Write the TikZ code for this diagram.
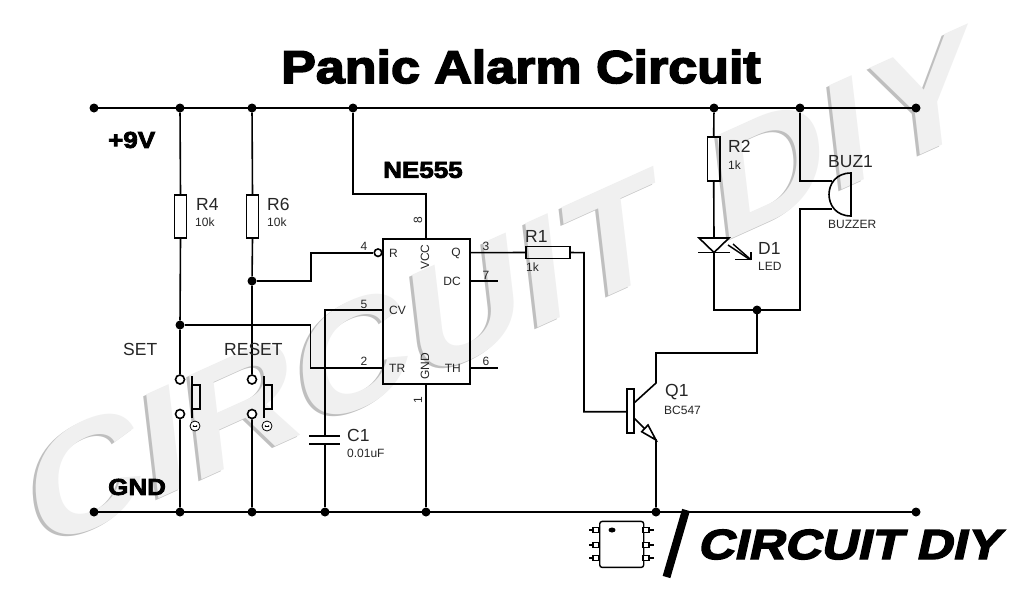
\documentclass[tikz,border=0pt]{standalone}
\usetikzlibrary{arrows.meta}
\usepackage{fontspec}
\setmainfont{Liberation Sans}
\newfontfamily\heavy[FakeBold=3.5,FakeStretch=1.13]{Liberation Sans Bold}
\newfontfamily\logofont[FakeBold=3.5,FakeSlant=0.22,FakeStretch=1.2]{Liberation Sans Bold}
\newfontfamily\wm{Liberation Sans Bold}
\newcommand{\wmletter}[3]{%
  \node[wmshadow,cm={1.096,0.495,-0.125,1.065,(#1-2.5,#2+2)},transform shape] {\wmchar{#3}};
  \node[wmface,cm={1.096,0.495,-0.125,1.065,(#1,#2)},transform shape] {\wmchar{#3}};
}
\newcommand{\wmchar}[1]{\fontsize{142}{142}\wm #1}
\tikzset{
  wire/.style={line width=1.6pt,line join=miter},
  part/.style={line width=1.8pt,fill=white},
  junction/.style={circle,fill=black,inner sep=0pt,minimum size=9pt},
  contact/.style={circle,draw=black,line width=1.6pt,fill=white,inner sep=0pt,minimum size=9pt},
  lbl/.style={inner sep=0pt,font=\fontsize{17.5}{17.5}\selectfont,text=black!85},
  small/.style={inner sep=0pt,font=\fontsize{12}{12}\selectfont,text=black!85},
  pinlbl/.style={inner sep=0pt,font=\fontsize{12}{12}\selectfont,text=black!85},
  iclbl/.style={inner sep=0pt,font=\fontsize{12}{12}\selectfont,text=black!85},
  bold/.style={inner sep=0pt,font=\fontsize{23}{23}\heavy},
  wmshadow/.style={anchor=base west,inner sep=0pt,text=black!25},
  wmface/.style={anchor=base west,inner sep=0pt,text=black!6},
}
\begin{document}
\begin{tikzpicture}[x=1pt,y=-1pt]
\useasboundingbox (0,0) rectangle (1024,592);
\fill[white] (0,0) rectangle (1024,592);
% watermark
\wmletter{36}{554}{C}
\wmletter{148}{504}{I}
\wmletter{191}{485}{R}
\wmletter{303}{434}{C}
\wmletter{415}{384}{U}
\wmletter{527}{333}{I}
\wmletter{572}{313}{T}
\wmletter{719}{245}{D}
\wmletter{831}{195}{I}
\wmletter{879}{174}{Y}
% rails
\coordinate (tl) at (94,108); \coordinate (tr) at (916,108);
\coordinate (bl) at (94,512); \coordinate (br) at (916,512);
\draw[wire] (tl) -- (tr);
\draw[wire] (bl) -- (br);
\foreach \n/\x in {t1/94,t2/180,t3/252,t4/353,t5/714,t6/800,t7/916}
  \node[junction] (\n) at (\x,108) {};
\foreach \n/\x in {b1/94,b2/180,b3/252,b4/325,b5/426,b6/656,b7/916}
  \node[junction] (\n) at (\x,512) {};
% IC
\node[draw,line width=1.8pt,minimum width=87pt,minimum height=145pt,inner sep=0pt,anchor=north west] (ic) at (382,238) {};
% R4/R6
\node[part,draw,minimum width=12pt,minimum height=43pt,inner sep=0pt] (R4) at (180.5,216.5) {};
\node[part,draw,minimum width=12pt,minimum height=43pt,inner sep=0pt] (R6) at (252.5,216.5) {};
\node[contact] (s1a) at (180,379.5) {};
\node[contact] (s1b) at (180,414) {};
\node[contact] (s2a) at (252,379.5) {};
\node[contact] (s2b) at (252,414) {};
\node[junction] (jset) at (180,325) {};
\node[junction] (jres) at (252,281) {};
\draw[wire] (t2) -- (R4.north) (R4.south) -- (jset) -- (s1a) (s1b) -- (b2);
\draw[wire] (t3) -- (R6.north) (R6.south) -- (jres) -- (s2a) (s2b) -- (b3);
% switches
\coordinate (k1a) at (191.7,376); \coordinate (k1b) at (191.7,418);
\coordinate (k2a) at (263.7,376); \coordinate (k2b) at (263.7,418);
\draw[wire] (k1a) -- (k1b) (k2a) -- (k2b);
\node[draw,line width=1.6pt,minimum width=7.5pt,minimum height=24pt,inner sep=0pt,anchor=west] (p1) at (191.7,397) {};
\node[draw,line width=1.6pt,minimum width=7.5pt,minimum height=24pt,inner sep=0pt,anchor=west] (p2) at (263.7,397) {};
\node[draw,circle,line width=.8pt,minimum size=10pt,inner sep=0pt,fill=white] (h1) at (195,426) {};
\node[draw,circle,line width=.8pt,minimum size=10pt,inner sep=0pt,fill=white] (h2) at (267,426) {};
\draw[line width=.6pt,{Stealth[length=1.6pt,width=1.8pt]}-{Stealth[length=1.6pt,width=1.8pt]}] (192.5,426) -- (197.5,426);
\draw[line width=.6pt,{Stealth[length=1.6pt,width=1.8pt]}-{Stealth[length=1.6pt,width=1.8pt]}] (264.5,426) -- (269.5,426);
% pins
\node[contact,minimum size=7.5pt] (p4) at (378,252.7) {};
\draw[wire] (jres) -- (311,281) -- (311,252.7) -- (p4);
\draw[wire] (jset) -- (310.5,325) -- (310.5,368) -- (382,368);
\draw[wire] (t4) -- (353,194) -- (426,194) -- (426,238);
\draw[wire] (426,383) -- (b5);
\draw[wire] (382,310) -- (325,310) -- (325,436);
\draw[wire] (325,444) -- (b4);
\draw[line width=1.8pt] (309,436) -- (340,436) (309,444) -- (340,444);
\draw[wire] (469,281) -- (498,281);
\draw[wire] (469,368) -- (498,368);
% R1
\node[draw,line width=1.8pt,minimum width=44pt,minimum height=12pt,inner sep=0pt] (R1) at (548,252.5) {};
\draw[wire] (469,252.7) -- (R1.west);
\draw[wire] (R1.east) -- (584,252.7) -- (584,411.7) -- (627,411.7);
% transistor
\node[draw,line width=1.6pt,fill=white,minimum width=7.5pt,minimum height=44pt,inner sep=0pt] (Q1) at (630.5,411) {};
\draw[wire] (634,403) -- (656,383) -- (656,353) -- (757,353) -- (757,310);
\draw[wire] (634,418) -- (656,440) -- (b6);
\draw[line width=1.6pt,fill=white,line join=miter] (656,440) -- (641.7,431.7) -- (648,425) -- cycle;
% R2, LED
\node[draw,line width=1.8pt,minimum width=12.5pt,minimum height=44pt,inner sep=0pt] (R2) at (713.7,158.7) {};
\draw[wire] (t5) -- (R2.north);
\coordinate (ledtop) at (714,238);
\coordinate (ledtip) at (714,252.5);
\draw[wire] (R2.south) -- (ledtop);
\draw[line width=1.6pt,fill=white] (699,238) -- (729,238) -- (714,252.5) -- cycle;
\draw[line width=1.6pt] (698,252.5) -- (730,252.5);
\draw[line width=1.4pt] (728,245) -- (749,259);
\draw[line width=1.4pt] (733,244) -- (750.7,259.5);
\draw[line width=1.6pt] (735,259.5) -- (750.7,259.5) -- (750.7,251.7);
\node[junction] (jq) at (757,310) {};
\draw[wire] (ledtip) -- (714,310) -- (800,310) -- (800,209) -- (832,209);
\draw[wire] (t6) -- (800,180.7) -- (832,180.7);
% buzzer
\draw[line width=1.6pt] (851,173) .. controls (836,173) and (829,184) .. (829,194.5) .. controls (829,205) and (836,216) .. (851,216) -- cycle;
% labels
\node[lbl,anchor=west] (tR4) at (196,204) {R4};
\node[small,anchor=west] (tv4) at (195,222) {10k};
\node[lbl,anchor=west] (tR6) at (267,204) {R6};
\node[small,anchor=west] (tv6) at (267,222) {10k};
\node[lbl,anchor=west] (tset) at (123,349) {SET};
\node[lbl,anchor=west] (tres) at (224,349) {RESET};
\node[lbl,anchor=west] (tC1) at (347,435) {C1};
\node[small,anchor=west] (tc1) at (347,453) {0.01uF};
\node[lbl,anchor=west] (tR1) at (525,236) {R1};
\node[small,anchor=west] (tr1) at (526,267) {1k};
\node[lbl,anchor=west] (tR2) at (728,146) {R2};
\node[small,anchor=west] (tr2) at (728,165) {1k};
\node[lbl,anchor=west] (tbuz) at (828,162) {BUZ1};
\node[small,anchor=west] (tbz) at (828,224) {BUZZER};
\node[lbl,anchor=west] (tD1) at (758,248) {D1};
\node[small,anchor=west] (tled) at (758,266) {LED};
\node[lbl,anchor=west] (tQ1) at (665,392) {Q1};
\node[small,anchor=west] (tq1) at (664,410) {BC547};
\node[iclbl,anchor=west] at (389,253) {R};
\node[iclbl,anchor=east] at (461,253) {Q};
\node[iclbl,anchor=east] at (461,281) {DC};
\node[iclbl,anchor=west] at (389,310) {CV};
\node[iclbl,anchor=west] at (389,368) {TR};
\node[iclbl,anchor=east] at (461,368) {TH};
\node[iclbl,rotate=90] at (425,257) {VCC};
\node[iclbl,rotate=90] at (425,366) {GND};
\foreach \t/\x/\y in {4/364/246,3/486/246,7/486/275,5/364/304,2/364/361,6/486/361}
  \node[pinlbl] at (\x,\y) {\t};
\node[pinlbl,rotate=90] at (418,220) {8};
\node[pinlbl,rotate=90] at (418,400) {1};
% headings
\node[inner sep=0pt,anchor=base] (title) at (521,83) {\fontsize{46}{46}\heavy Panic Alarm Circuit};
\node[bold,anchor=west] (t9) at (108,140) {+9V};
\node[bold,anchor=west] (tne) at (383,170) {NE555};
\node[bold,anchor=west] (tg) at (108,487) {GND};
% logo
\node[draw,line width=1.4pt,rounded corners=2.5pt,fill=white,minimum width=44pt,minimum height=46pt,inner sep=0pt,anchor=north west] (chip) at (599,520.7) {};
\foreach \y in {530,545,558}{
  \draw[line width=1.4pt,fill=white] (593,\y-2.5) rectangle (599,\y+2.5);
  \draw[line width=1.4pt,fill=white] (643,\y-2.5) rectangle (649,\y+2.5);
  \draw[line width=1.6pt] (589,\y) -- (593,\y) (649,\y) -- (654,\y);
}
\fill (612,530) ellipse (3.5pt and 2.5pt);
\coordinate (sa) at (686,510); \coordinate (sb) at (666.5,577);
\draw[line width=8pt] (sa) -- (sb);
\node[inner sep=0pt,anchor=base west] (logo) at (697,559) {\fontsize{42}{42}\logofont CIRCUIT DIY};
\end{tikzpicture}
\end{document}
